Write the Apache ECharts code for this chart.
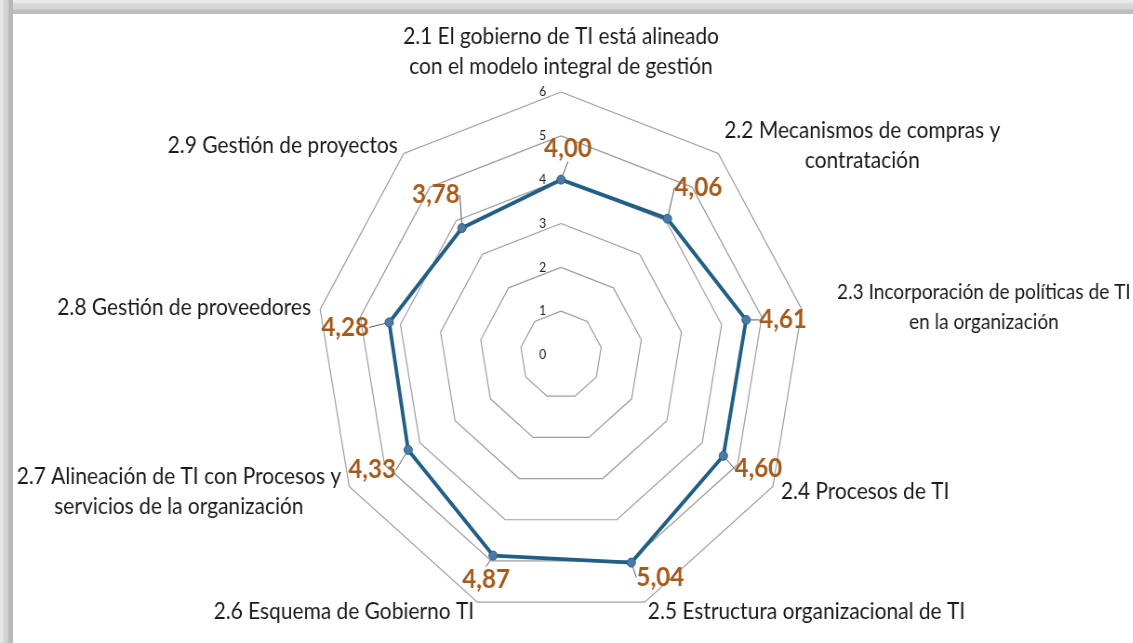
<!DOCTYPE html>
<html>
<head>
<meta charset="utf-8">
<script src="https://cdn.jsdelivr.net/npm/echarts@6/dist/echarts.min.js"></script>
<style>
  html, body { margin: 0; padding: 0; background: #fff; overflow: hidden; }
  #wrap { position: relative; width: 1133px; height: 643px; overflow: hidden; background: #fff; }
  /* the reference is a bit narrower than tall, so the chart is squeezed on x */
  #radarChart { position: absolute; left: 0; top: 0; width: 1218px; height: 643px; transform: scaleX(0.93); transform-origin: 0 0; }
  .band_top { position: absolute; left: 0; top: 0; width: 1133px; height: 14px; z-index: 2;
    background: linear-gradient(#ececec 0, #e6e6e6 3px, #d8d8d8 4px, #d6d6d6 9px, #bebebe 10px, #bcbcbc 14px); }
  .band_left { position: absolute; left: 0; top: 0; width: 13px; height: 643px; z-index: 2;
    background: linear-gradient(to right, #e8e8e8 0, #e4e4e4 3px, #d3d3d3 4px, #d0d0d0 8px, #b9b9b9 9px, #b7b7b7 13px); }
</style>
</head>
<body>
<div id="wrap">
  <div class="band_top"></div>
  <div class="band_left"></div>
  <div id="radarChart"></div>
</div>
<script>
  // datos
  const indicatorNames = [
    '2.1 El gobierno de TI está alineado\ncon el modelo integral de gestión',
    '2.2 Mecanismos de compras y\ncontratación',
    '2.3 Incorporación de políticas de TI\nen la organización',
    '2.4 Procesos de TI',
    '2.5 Estructura organizacional de TI',
    '2.6 Esquema de Gobierno TI',
    '2.7 Alineación de TI con Procesos y\nservicios de la organización',
    '2.8 Gestión de proveedores',
    '2.9 Gestión de proyectos'
  ];
  const scoreValues = [4.00, 4.06, 4.61, 4.60, 5.04, 4.87, 4.33, 4.28, 3.78];
  const scaleTicks = [0, 1, 2, 3, 4, 5, 6];

  // layout
  const SX = 0.93;            // horizontal squeeze of the container
  const CX = 561 / SX;        // centre in chart px
  const CY = 355;
  const RADIUS = 263;
  // where each value label sits relative to its point (screen px)
  const valueLabelShift = [[7, -31], [31, -31], [37, 0], [35, 13], [29, 15], [-7, 24], [-36, 20], [-44, 5], [-26, -33]];

  const FONT = 'Lato';
  const LINE_COLOR = '#215f86';
  const VALUE_COLOR = '#a65a1b';

  const n = indicatorNames.length;
  const maxValue = scaleTicks[scaleTicks.length - 1];
  // echarts radar goes counter-clockwise, the reference goes clockwise
  const radarOrder = indicatorNames.map((_, k) => (n - k) % n);

  const myChart = echarts.init(document.getElementById('radarChart'));

  const nameRich = {
    c: { align: 'center', fontSize: 22.5, lineHeight: 30, fontFamily: FONT, color: '#1a1a1a' },
    p: { align: 'center', fontSize: 20.5, lineHeight: 30, fontFamily: FONT, color: '#1a1a1a', padding: [0, 0, 0, 28] }
  };

  const option = {
    animation: false,
    backgroundColor: 'transparent',
    radar: {
      center: [CX, CY],
      radius: RADIUS,
      startAngle: 90,
      shape: 'polygon',
      splitNumber: scaleTicks.length - 1,
      nameGap: 10,
      indicator: radarOrder.map(i => ({ name: indicatorNames[i], min: 0, max: maxValue })),
      axisName: {
        color: '#1a1a1a',
        fontSize: 22.5,
        fontFamily: FONT,
        formatter: function (name) {
          const key = name.indexOf('2.3') === 0 ? 'p' : 'c';
          return name.split('\n').map(l => '{' + key + '|' + l + '}').join('\n');
        },
        rich: nameRich
      },
      axisLine: { show: false },
      axisTick: { show: false },
      axisLabel: { show: false },
      splitLine: { lineStyle: { color: '#9e9e9e', width: 1.2 } },
      splitArea: { show: false }
    },
    polar: {
      center: [CX, CY],
      radius: RADIUS
    },
    angleAxis: {
      type: 'value',
      min: 0,
      max: 360,
      startAngle: 90,
      clockwise: true,
      show: false
    },
    radiusAxis: {
      type: 'value',
      min: 0,
      max: maxValue,
      interval: 1,
      axisLine: { show: false },
      axisTick: { show: false },
      splitLine: { show: false },
      axisLabel: { color: '#222', fontSize: 13, fontFamily: FONT, margin: 16 }
    },
    series: [
      {
        type: 'radar',
        symbol: 'none',
        lineStyle: { color: LINE_COLOR, width: 3.8 },
        data: [{ value: radarOrder.map(i => scoreValues[i]) }],
        z: 2
      },
      {
        type: 'scatter',
        coordinateSystem: 'polar',
        symbol: 'circle',
        symbolSize: 9,
        itemStyle: { color: '#4a7aa6', borderColor: '#2c5e84', borderWidth: 1, opacity: 1 },
        label: {
          show: true,
          position: 'inside',
          color: VALUE_COLOR,
          opacity: 1,
          textBorderWidth: 0,
          textBorderColor: 'transparent',
          fontSize: 26,
          fontWeight: 'bold',
          fontFamily: FONT,
          formatter: p => p.value[0].toFixed(2).replace('.', ',')
        },
        labelLine: { show: true, lineStyle: { color: '#595959', width: 1, opacity: 1 } },
        labelLayout: function (p) {
          const s = valueLabelShift[p.dataIndex];
          return { dx: s[0] / SX, dy: s[1] };
        },
        data: scoreValues.map((v, i) => [v, i * 360 / n]),
        z: 3
      }
    ]
  };

  myChart.setOption(option);
</script>
</body>
</html>
